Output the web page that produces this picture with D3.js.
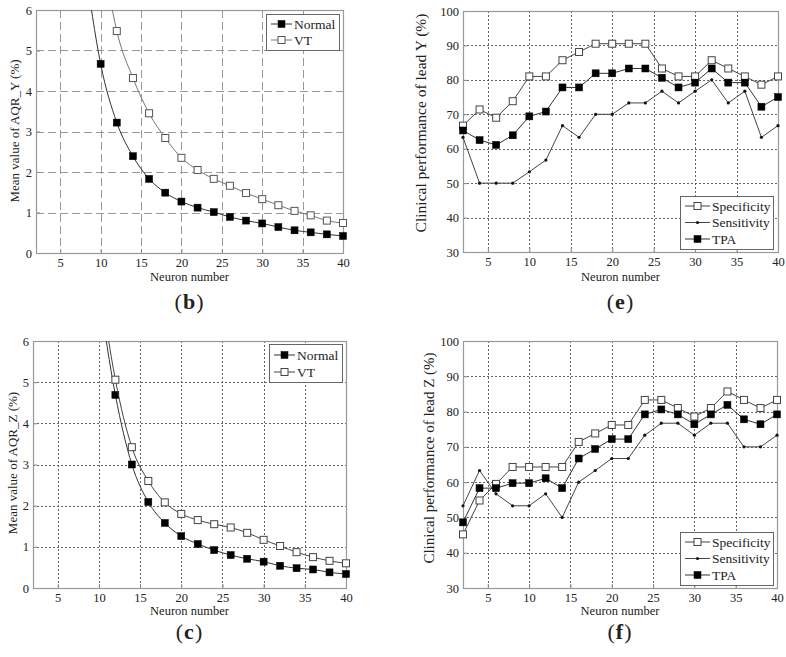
<!DOCTYPE html>
<html><head><meta charset="utf-8">
<script src="https://cdn.jsdelivr.net/npm/d3@7"></script>
<style>
html,body{margin:0;padding:0;background:#fff;}
svg text{font-family:"Liberation Serif","Times New Roman",serif;fill:#222;}
</style></head>
<body>
<svg id="chart" width="786" height="657"></svg>
<script>
// ---------- data ----------
const xTicks = [5, 10, 15, 20, 25, 30, 35, 40];
const aqrTicks = [0, 1, 2, 3, 4, 5, 6];
const perfTicks = [30, 40, 50, 60, 70, 80, 90, 100];

// Panel (b): AQR_Y
const bNormalX = [8, 10, 12, 14, 16, 18, 20, 22, 24, 26, 28, 30, 32, 34, 36, 38, 40];
const bNormal  = [7.2, 4.67, 3.22, 2.39, 1.83, 1.49, 1.27, 1.12, 1.01, 0.89, 0.80, 0.73, 0.64, 0.56, 0.51, 0.46, 0.42];
const bVTX     = [10, 12, 14, 16, 18, 20, 22, 24, 26, 28, 30, 32, 34, 36, 38, 40];
const bVT      = [7.7, 5.48, 4.32, 3.45, 2.84, 2.35, 2.05, 1.83, 1.66, 1.48, 1.33, 1.18, 1.04, 0.93, 0.80, 0.74];

// Panel (c): AQR_Z
const cX       = [10, 12, 14, 16, 18, 20, 22, 24, 26, 28, 30, 32, 34, 36, 38, 40];
const cNormal  = [7.2, 4.69, 3.00, 2.09, 1.58, 1.26, 1.07, 0.92, 0.80, 0.71, 0.64, 0.54, 0.48, 0.45, 0.38, 0.34];
const cVT      = [7.6, 5.06, 3.42, 2.60, 2.08, 1.80, 1.65, 1.55, 1.47, 1.34, 1.17, 1.02, 0.87, 0.75, 0.66, 0.60];

// Panels (e), (f): clinical performance
const neurons = [2, 4, 6, 8, 10, 12, 14, 16, 18, 20, 22, 24, 26, 28, 30, 32, 34, 36, 38, 40];
const eSpec = [66.7, 71.4, 69.0, 73.8, 81.0, 81.0, 85.7, 88.1, 90.5, 90.5, 90.5, 90.5, 83.3, 81.0, 81.0, 85.7, 83.3, 81.0, 78.6, 81.0];
const eSens = [63.3, 50.0, 50.0, 50.0, 53.3, 56.7, 66.7, 63.3, 70.0, 70.0, 73.3, 73.3, 76.7, 73.3, 76.7, 80.0, 73.3, 76.7, 63.3, 66.7];
const eTPA  = [65.3, 62.5, 61.1, 63.9, 69.4, 70.8, 77.8, 77.8, 81.9, 81.9, 83.3, 83.3, 80.6, 77.8, 79.2, 83.3, 79.2, 79.2, 72.2, 75.0];
const fSpec = [45.2, 54.8, 59.5, 64.3, 64.3, 64.3, 64.3, 71.4, 73.8, 76.2, 76.2, 83.3, 83.3, 81.0, 78.6, 81.0, 85.7, 83.3, 81.0, 83.3];
const fSens = [53.3, 63.3, 56.7, 53.3, 53.3, 56.7, 50.0, 60.0, 63.3, 66.7, 66.7, 73.3, 76.7, 76.7, 73.3, 76.7, 76.7, 70.0, 70.0, 73.3];
const fTPA  = [48.6, 58.3, 58.3, 59.7, 59.7, 61.1, 58.3, 66.7, 69.4, 72.2, 72.2, 79.2, 80.6, 79.2, 76.4, 79.2, 81.9, 77.8, 76.4, 79.2];

// ---------- drawing ----------
const svg = d3.select("#chart");
let clipId = 0;
const SERIF = '"Liberation Serif", "Times New Roman", serif';

function zip(xs, ys) { return xs.map((x, i) => [x, ys[i]]); }

function drawPanel(p) {
  const g = svg.append("g");
  const x = d3.scaleLinear().domain([2, 40]).range([p.left, p.right]);
  const y = d3.scaleLinear().domain(p.yDomain).range([p.bottom, p.top]);
  const id = "clip" + (clipId++);
  svg.append("clipPath").attr("id", id).append("rect")
    .attr("x", p.left).attr("y", p.top)
    .attr("width", p.right - p.left).attr("height", p.bottom - p.top);

  // grid
  const grid = g.append("g").attr("stroke", p.gridColor).attr("stroke-width", 1)
    .attr("stroke-dasharray", p.gridDash).attr("fill", "none");
  xTicks.filter(t => t < 40).forEach(t => {
    grid.append("line").attr("x1", Math.round(x(t)) + 0.5).attr("x2", Math.round(x(t)) + 0.5)
      .attr("y1", p.top).attr("y2", p.bottom);
  });
  p.yTicks.slice(1, -1).forEach(t => {
    grid.append("line").attr("y1", Math.round(y(t)) + 0.5).attr("y2", Math.round(y(t)) + 0.5)
      .attr("x1", p.left).attr("x2", p.right);
  });

  // axes (inward ticks)
  const fmt = d3.format("d");
  const xAxis = d3.axisBottom(x).tickValues(xTicks).tickFormat(fmt).tickSizeInner(-4).tickSizeOuter(0).tickPadding(4);
  const yAxis = d3.axisLeft(y).tickValues(p.yTicks).tickFormat(fmt).tickSizeInner(-4).tickSizeOuter(0).tickPadding(4);
  const gx = g.append("g").attr("transform", `translate(0,${p.bottom})`).call(xAxis);
  const gy = g.append("g").attr("transform", `translate(${p.left},0)`).call(yAxis);
  [gx, gy].forEach(a => {
    a.attr("font-family", SERIF).attr("font-size", 12.5);
    a.select(".domain").remove();
    a.selectAll("line").attr("stroke", "#888");
    a.selectAll("text").attr("fill", "#222").style("font-family", SERIF).style("font-size", "12.5px");
  });
  gx.selectAll("text").attr("y", 14).attr("dy", 0);
  gy.selectAll("text").attr("x", -4);

  // frame
  g.append("rect").attr("x", p.left + 0.5).attr("y", p.top + 0.5)
    .attr("width", p.right - p.left).attr("height", p.bottom - p.top)
    .attr("fill", "none").attr("stroke", "#999").attr("stroke-width", 1.2);

  // series
  p.series.forEach(s => {
    const pts = zip(s.x, s.y);
    const line = d3.line().x(d => x(d[0])).y(d => y(d[1])).curve(s.curve || d3.curveLinear);
    g.append("path").attr("d", line(pts)).attr("fill", "none")
      .attr("stroke", s.color).attr("stroke-width", 1)
      .attr("clip-path", `url(#${id})`);
    const visible = pts.filter(d => d[1] <= p.yDomain[1] && d[0] >= 2);
    drawMarkers(g, visible.map(d => [x(d[0]), y(d[1])]), s);
  });

  // legend
  const L = p.legend;
  g.append("rect").attr("x", L.x + 0.5).attr("y", L.y + 0.5).attr("width", L.w).attr("height", L.h)
    .attr("fill", "#fff").attr("stroke", "#666").attr("stroke-width", 1);
  p.series.forEach((s, i) => {
    const cy = L.y + L.firstRow + i * L.rowH;
    g.append("line").attr("x1", L.x + 5).attr("x2", L.x + 5 + L.lineW)
      .attr("y1", cy).attr("y2", cy).attr("stroke", s.color).attr("stroke-width", 1);
    drawMarkers(g, [[L.x + 5 + L.lineW / 2, cy]], s);
    g.append("text").attr("x", L.x + 7 + L.lineW).attr("y", cy).attr("dy", "0.35em")
      .attr("font-size", 13.5).text(s.name);
  });

  // titles
  g.append("text").attr("x", (p.left + p.right) / 2).attr("y", p.bottom + p.xtDy)
    .attr("text-anchor", "middle").attr("font-size", 12.5).text("Neuron number");
  g.append("text").attr("transform", `translate(${p.ytX},${p.ytY}) rotate(-90)`)
    .attr("text-anchor", "middle").attr("dy", "0.35em").attr("font-size", p.ytSize).text(p.yTitle);
  const lab = g.append("text").attr("x", (p.left + p.right) / 2).attr("y", p.bottom + p.labDy)
    .attr("text-anchor", "middle").attr("font-size", 22).attr("letter-spacing", 1);
  lab.append("tspan").text("(");
  lab.append("tspan").attr("font-weight", "bold").text(p.label);
  lab.append("tspan").text(")");
}

function drawMarkers(g, pts, s) {
  pts.forEach(([px, py]) => {
    if (s.marker === "filled") {
      g.append("rect").attr("x", px - 3.5).attr("y", py - 3.5).attr("width", 7).attr("height", 7)
        .attr("fill", "#000").attr("stroke", "#000").attr("stroke-width", 0.5);
    } else if (s.marker === "open") {
      g.append("rect").attr("x", px - 3.5).attr("y", py - 3.5).attr("width", 7).attr("height", 7)
        .attr("fill", "#fff").attr("stroke", s.markerColor || "#444").attr("stroke-width", 1);
    } else {
      g.append("circle").attr("cx", px).attr("cy", py).attr("r", 1.6).attr("fill", "#111");
    }
  });
}

const smooth = d3.curveMonotoneX;

drawPanel({
  left: 36, right: 343, top: 10, bottom: 253, yDomain: [0, 6], yTicks: aqrTicks,
  gridColor: "#999", gridDash: "8,4", ytX: 14, ytY: 131, ytSize: 13, yTitle: "Mean value of AQR_Y (%)",
  label: "b", labDy: 56, xtDy: 28,
  series: [
    {name: "Normal", x: bNormalX, y: bNormal, color: "#333", marker: "filled", curve: smooth},
    {name: "VT", x: bVTX, y: bVT, color: "#777", marker: "open", markerColor: "#555", curve: smooth}
  ],
  legend: {x: 266, y: 14, w: 73, h: 36, firstRow: 10, rowH: 16, lineW: 21}
});

drawPanel({
  left: 463, right: 778, top: 11, bottom: 252, yDomain: [30, 100], yTicks: perfTicks,
  gridColor: "#666", gridDash: "2,2", ytX: 421, ytY: 123, ytSize: 15.5, yTitle: "Clinical performance of lead Y (%)",
  label: "e", labDy: 57, xtDy: 29,
  series: [
    {name: "Specificity", x: neurons, y: eSpec, color: "#444", marker: "open"},
    {name: "Sensitivity", x: neurons, y: eSens, color: "#444", marker: "dot"},
    {name: "TPA", x: neurons, y: eTPA, color: "#333", marker: "filled"}
  ],
  legend: {x: 680, y: 196, w: 93, h: 53, firstRow: 10, rowH: 16.5, lineW: 25}
});

drawPanel({
  left: 33, right: 346, top: 341, bottom: 588, yDomain: [0, 6], yTicks: aqrTicks,
  gridColor: "#666", gridDash: "2,2", ytX: 12, ytY: 463, ytSize: 13, yTitle: "Mean value of AQR_Z (%)",
  label: "c", labDy: 51, xtDy: 27,
  series: [
    {name: "Normal", x: cX, y: cNormal, color: "#333", marker: "filled", curve: smooth},
    {name: "VT", x: cX, y: cVT, color: "#444", marker: "open", curve: smooth}
  ],
  legend: {x: 269, y: 344, w: 73, h: 38, firstRow: 11, rowH: 17, lineW: 21}
});

drawPanel({
  left: 463, right: 777, top: 341, bottom: 588, yDomain: [30, 100], yTicks: perfTicks,
  gridColor: "#666", gridDash: "2,2", ytX: 429, ytY: 458, ytSize: 15, yTitle: "Clinical performance of lead Z (%)",
  label: "f", labDy: 51, xtDy: 27,
  series: [
    {name: "Specificity", x: neurons, y: fSpec, color: "#444", marker: "open"},
    {name: "Sensitivity", x: neurons, y: fSens, color: "#444", marker: "dot"},
    {name: "TPA", x: neurons, y: fTPA, color: "#333", marker: "filled"}
  ],
  legend: {x: 680, y: 532, w: 93, h: 53, firstRow: 10, rowH: 16.5, lineW: 25}
});
</script>
</body></html>
